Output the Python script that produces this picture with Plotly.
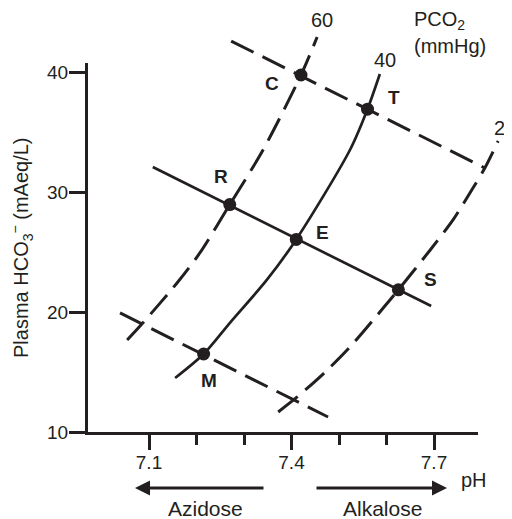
import plotly.graph_objects as go

# ---------------- data ----------------
point_labels = ["C", "T", "R", "E", "S", "M"]
point_ph = [7.42, 7.56, 7.27, 7.41, 7.625, 7.215]
point_hco3 = [39.75, 36.9, 28.95, 26.05, 21.85, 16.5]

# PCO2 isobars (mmHg)
isobar60_ph = [7.054, 7.085, 7.159, 7.207, 7.27, 7.34, 7.42, 7.454]
isobar60_hco3 = [17.67, 19.0, 22.42, 24.92, 28.95, 33.5, 39.75, 42.92]

isobar40_ph = [7.155, 7.215, 7.27, 7.348, 7.41, 7.523, 7.56, 7.586]
isobar40_hco3 = [14.5, 16.5, 19.08, 22.67, 26.05, 33.5, 36.9, 39.83]

isobar20_ph = [7.372, 7.412, 7.471, 7.523, 7.593, 7.625, 7.692, 7.740, 7.782, 7.807, 7.835]
isobar20_hco3 = [11.67, 12.92, 15.0, 17.08, 20.33, 21.85, 25.17, 27.67, 30.33, 32.0, 34.25]

# buffer lines
buffer_mid_ph = [7.108, 7.694]
buffer_mid_hco3 = [32.08, 20.5]
buffer_high_ph = [7.273, 7.807]
buffer_high_hco3 = [42.58, 32.0]
buffer_low_ph = [7.039, 7.477]
buffer_low_hco3 = [19.92, 11.25]

x_major_ticks = [7.1, 7.4, 7.7]
x_major_labels = ["7.1", "7.4", "7.7"]
x_minor_ticks = [7.2, 7.3, 7.5, 7.6]
y_ticks = [10, 20, 30, 40]
y_tick_labels = ["10", "20", "30", "40"]

# ---------------- figure ----------------
OFF = 8                      # default page margin around the plot div
W, H = 512 - OFF, 519 - OFF  # figure size so it ends at the window edges
INK = "#231f20"
FONT = "Liberation Sans, Arial, sans-serif"

fig = go.Figure()

def add_line(xs, ys, dash, width, smooth=False):
    fig.add_trace(go.Scatter(
        x=xs, y=ys, mode="lines", xaxis="x2", yaxis="y2",
        line=dict(color=INK, width=width, dash=dash,
                  shape="spline" if smooth else "linear", smoothing=0.8),
        hoverinfo="skip", showlegend=False))

add_line(buffer_high_ph, buffer_high_hco3, "25px,10px", 3)
add_line(buffer_low_ph, buffer_low_hco3, "25px,10px", 3)
add_line(buffer_mid_ph, buffer_mid_hco3, "solid", 2.7)
add_line(isobar60_ph, isobar60_hco3, "25px,10px", 3, smooth=True)
add_line(isobar20_ph, isobar20_hco3, "25px,10px", 3, smooth=True)
add_line(isobar40_ph, isobar40_hco3, "solid", 2.7, smooth=True)

# points drawn on the visible axis pair (same scale as x2/y2)
fig.add_trace(go.Scatter(
    x=point_ph, y=point_hco3, mode="markers", xaxis="x", yaxis="y",
    marker=dict(size=13, color=INK), cliponaxis=False,
    hoverinfo="skip", showlegend=False))

# point label offsets (pixels)
label_shift = {"C": (-29, -8.5), "T": (26, 11.5), "R": (-9, 28),
               "E": (26.5, 7), "S": (32.5, 10.5), "M": (5.5, -26.5)}
annotations = []
for lab, px_, hy in zip(point_labels, point_ph, point_hco3):
    dx, dy = label_shift[lab]
    annotations.append(dict(x=px_, y=hy, xref="x", yref="y", text="<b>%s</b>" % lab,
                            showarrow=False, xshift=dx, yshift=dy,
                            font=dict(family=FONT, size=19, color=INK),
                            xanchor="center", yanchor="middle"))

def pap(px, py):
    """window pixel -> paper fraction"""
    return (px - OFF) / W, 1 - (py - OFF) / H

def txt(px, py, text, size=20, xanchor="center", textangle=0):
    x, y = pap(px, py)
    annotations.append(dict(x=x, y=y, xref="paper", yref="paper", text=text,
                            showarrow=False, xanchor=xanchor, yanchor="middle",
                            textangle=textangle,
                            font=dict(family=FONT, size=size, color=INK)))

txt(321.5, 20, "60")
txt(385, 60, "40")
txt(492, 128, "20", xanchor="left")
txt(412, 20, "PCO<sub>2</sub>", xanchor="left")
txt(412, 46, "(mmHg)", xanchor="left")
txt(474, 480, "pH")
txt(205, 508, "Azidose", size=21)
txt(382, 508, "Alkalose", size=21)
txt(21, 248, "Plasma HCO<sub>3</sub><sup>−</sup> (mAeq/L)", size=20, textangle=-90)

# arrows
for tip, tail in [((135, 488), (265, 488)), ((447, 488), (315, 488))]:
    x, y = pap(*tip)
    annotations.append(dict(x=x, y=y, xref="paper", yref="paper", text="",
                            showarrow=True, ax=tail[0] - tip[0], ay=tail[1] - tip[1],
                            arrowhead=2, arrowsize=1, arrowwidth=3, arrowcolor=INK,
                            standoff=0))

# axis frame in window pixels
ax_left, ax_right = 88, 478
ax_bottom, ax_top = 432, 63
x_lo, x_hi = pap(ax_left, 0)[0], pap(ax_right, 0)[0]
y_lo, y_hi = pap(0, ax_bottom)[1], pap(0, ax_top)[1]
ph_left, ph_right = 6.97158, 7.79263
px_per_ph = (ax_right - ax_left) / (ph_right - ph_left)
px_per_unit = (ax_bottom - ax_top) / (40.75 - 10)

fig.update_layout(
    width=W, height=H, autosize=False,
    margin=dict(l=0, r=0, t=0, b=0, autoexpand=False),
    paper_bgcolor="white", plot_bgcolor="rgba(0,0,0,0)",
    showlegend=False,
    annotations=annotations,
    xaxis=dict(domain=[x_lo, x_hi], range=[ph_left, ph_right], automargin=False,
               anchor="y", showline=True, linewidth=3, linecolor=INK,
               showgrid=False, zeroline=False,
               tickmode="array", tickvals=x_major_ticks, ticktext=x_major_labels,
               ticks="outside", ticklen=15, tickwidth=3, tickcolor=INK,
               ticklabelstandoff=-4,
               tickfont=dict(family=FONT, size=19, color=INK),
               minor=dict(tickmode="array", tickvals=x_minor_ticks, ticks="outside",
                          ticklen=10, tickwidth=3, tickcolor=INK, showgrid=False),
               fixedrange=True),
    yaxis=dict(domain=[y_lo, y_hi], range=[10, 40.75], automargin=False,
               anchor="x", showline=True, linewidth=3, linecolor=INK,
               showgrid=False, zeroline=False,
               tickmode="array", tickvals=y_ticks, ticktext=y_tick_labels,
               ticks="outside", ticklen=16, tickwidth=3, tickcolor=INK,
               ticklabelstandoff=-3,
               tickfont=dict(family=FONT, size=19, color=INK),
               fixedrange=True),
    xaxis2=dict(domain=[x_lo, 1.0],
                range=[ph_left, ph_left + (512 - ax_left) / px_per_ph],
                anchor="y2", visible=False, fixedrange=True, automargin=False),
    yaxis2=dict(domain=[y_lo, 1.0],
                range=[10, 10 + (ax_bottom - OFF) / px_per_unit],
                anchor="x2", visible=False, fixedrange=True, automargin=False),
)

fig.write_html("out.html", config={"displayModeBar": False})
